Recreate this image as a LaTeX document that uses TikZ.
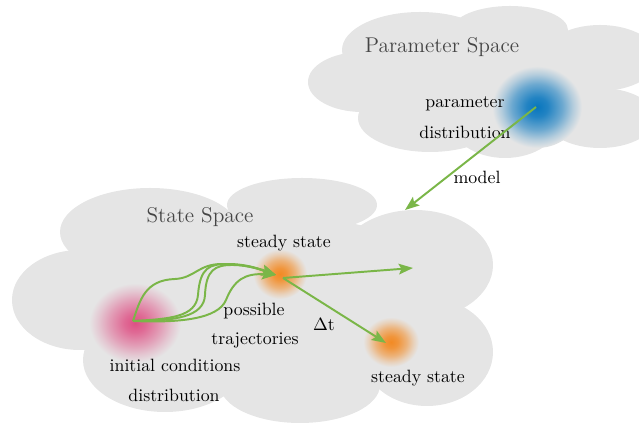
\documentclass[tikz,border=0pt]{standalone}
\usetikzlibrary{arrows.meta}
\definecolor{cloudgray}{gray}{0.9}
\definecolor{trajgreen}{RGB}{122,182,72}
\definecolor{blobblue}{RGB}{8,118,190}
\definecolor{blobpink}{RGB}{222,80,132}
\definecolor{bloborange}{RGB}{242,138,36}
\definecolor{titlegray}{gray}{0.27}
\pgfdeclareradialshading{blueblob}{\pgfpoint{0bp}{0bp}}{color(0bp)=(blobblue); color(6bp)=(blobblue!88!cloudgray); color(14bp)=(blobblue!55!cloudgray); color(20bp)=(blobblue!22!cloudgray); color(25bp)=(cloudgray); color(50bp)=(cloudgray)}
\pgfdeclareradialshading{pinkblob}{\pgfpoint{0bp}{0bp}}{color(0bp)=(blobpink); color(6bp)=(blobpink!82!cloudgray); color(14bp)=(blobpink!48!cloudgray); color(20bp)=(blobpink!20!cloudgray); color(25bp)=(cloudgray); color(50bp)=(cloudgray)}
\pgfdeclareradialshading{orangeblob}{\pgfpoint{0bp}{0bp}}{color(0bp)=(bloborange); color(6bp)=(bloborange!88!cloudgray); color(14bp)=(bloborange!55!cloudgray); color(20bp)=(bloborange!22!cloudgray); color(25bp)=(cloudgray); color(50bp)=(cloudgray)}
\tikzset{
  cloudpart/.style={fill=cloudgray, draw=none},
  flow/.style={draw=trajgreen, line width=1.1pt, -{Stealth[length=8pt,width=6pt,inset=1.5pt]}},
  label/.style={font=\normalsize, text=black, inner sep=1pt},
  title/.style={font=\large, text=titlegray, inner sep=1pt},
}
\begin{document}
\begin{tikzpicture}[x=0.5618pt,y=0.5618pt]
\useasboundingbox (0,0) rectangle (639,425);
% parameter space cloud
\fill[cloudpart] (420,375) ellipse [x radius=78, y radius=38];
\fill[cloudpart] (510,395) ellipse [x radius=58, y radius=24];
\fill[cloudpart] (600,367) ellipse [x radius=58, y radius=33];
\fill[cloudpart] (362,343) ellipse [x radius=54, y radius=30];
\fill[cloudpart] (430,307) ellipse [x radius=72, y radius=34];
\fill[cloudpart] (505,305) ellipse [x radius=55, y radius=38];
\fill[cloudpart] (600,307) ellipse [x radius=55, y radius=30];
\fill[cloudpart] (480,340) ellipse [x radius=110, y radius=50];
% state space cloud
\fill[cloudpart] (150,193) ellipse [x radius=90, y radius=44];
\fill[cloudpart] (302,220) ellipse [x radius=75, y radius=27];
\fill[cloudpart] (415,160) ellipse [x radius=78, y radius=55];
\fill[cloudpart] (80,125) ellipse [x radius=68, y radius=50];
\fill[cloudpart] (165,65) ellipse [x radius=82, y radius=52];
\fill[cloudpart] (300,40) ellipse [x radius=80, y radius=38];
\fill[cloudpart] (427,73) ellipse [x radius=66, y radius=54];
\fill[cloudpart] (270,125) ellipse [x radius=190, y radius=85];
% blobs
\shade[shading=blueblob] (537,318) ellipse [x radius=45, y radius=41];
\shade[shading=pinkblob] (135,102) ellipse [x radius=46, y radius=40];
\shade[shading=orangeblob] (280,151) ellipse [x radius=27, y radius=25];
\shade[shading=orangeblob] (391,83) ellipse [x radius=28, y radius=25];
% coordinates
\coordinate (pd) at (536,318);
\coordinate (modelend) at (405,215);
\coordinate (ic) at (133,104);
\coordinate (ssin) at (276,150);
\coordinate (ssout) at (283,147);
\coordinate (freeend) at (413,157);
\coordinate (ss2) at (386,82);
% texts
\node[title] (pstitle) at (442,378) {Parameter Space};
\node[label] (pdl1) at (465,321) {parameter};
\node[label] (pdl2) at (465,293) {distribution};
\node[label] (modell) at (477,248) {model};
\node[title] (sstitle) at (200,208) {State Space};
\node[label] (ss1l) at (284,182) {steady state};
\node[label] (ptl1) at (254,114) {possible};
\node[label] (ptl2) at (255,85) {trajectories};
\node[label] (dtl) at (324,100) {$\Delta$t};
\node[label] (icl1) at (175,60) {initial conditions};
\node[label] (icl2) at (174,30) {distribution};
\node[label] (ss2l) at (418,47) {steady state};
% connectors
\draw[flow] (pd) -- (modelend);
\draw[flow] (ic) .. controls (140,125) and (145,145) .. (175,146) .. controls (195,147) and (198,161) .. (222,161) .. controls (245,161) and (262,155) .. (ssin);
\draw[flow] (ic) .. controls (170,106) and (196,108) .. (198,130) .. controls (200,158) and (210,161) .. (228,161) .. controls (248,161) and (262,155) .. (ssin);
\draw[flow] (ic) .. controls (175,104) and (204,108) .. (205,130) .. controls (206,155) and (215,160) .. (232,160) .. controls (250,160) and (262,155) .. (ssin);
\draw[flow] (ic) .. controls (180,102) and (218,106) .. (226,125) .. controls (234,145) and (245,152) .. (ssin);
\draw[flow] (ssout) -- (freeend);
\draw[flow] (ssout) -- (ss2);
\end{tikzpicture}
\end{document}
